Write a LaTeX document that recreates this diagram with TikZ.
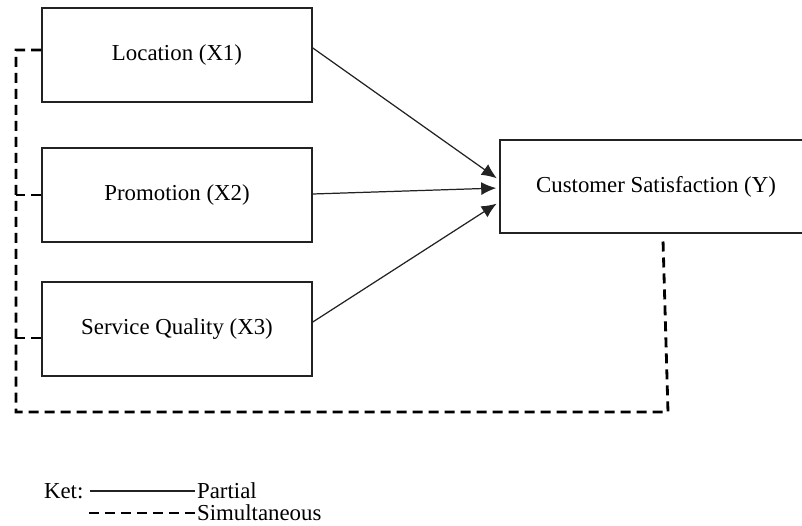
\documentclass[tikz,border=0pt]{standalone}
\usepackage{fontspec}
\setmainfont{Liberation Serif}
\usepackage{tikz}
\usetikzlibrary{arrows.meta,calc,positioning}
\definecolor{LineGray}{HTML}{222222}
\tikzset{
  varbox/.style={draw=LineGray, line width=0.95pt, minimum width=5.4cm, minimum height=1.88cm, align=center, inner sep=4pt, font=\fontsize{13}{15}\selectfont},
  partarrow/.style={-{Latex[length=3mm,width=2.6mm]}, line width=0.7pt, draw=LineGray},
  simline/.style={line width=1.6pt, draw=black, dash pattern=on 2mm off 1.2mm},
  ketlabel/.style={anchor=west, inner sep=1pt, font=\fontsize{13}{15}\selectfont}
}
\begin{document}
\begin{tikzpicture}[x=0.02cm, y=-0.02cm]
  \useasboundingbox (0,0) rectangle (802,526);
  % independent variables and the dependent one
  \node[varbox] (loc) at (177,55) {Location (X1)};
  \node[varbox] (promo) at (177,195) {Promotion (X2)};
  \node[varbox] (sq) at (177,329) {Service Quality (X3)};
  \node[varbox, minimum width=6.24cm, minimum height=1.86cm] (sat) at (656,186.5) {Customer Satisfaction (Y)};
  % partial effects
  \draw[partarrow, shorten >=0.06cm] ([yshift=0.14cm]loc.east) -- ([yshift=0.13cm]sat.west);
  \draw[partarrow, shorten >=0.06cm] ([yshift=0.02cm]promo.east) -- ([yshift=-0.03cm]sat.west);
  \draw[partarrow, shorten >=0.06cm] ([yshift=0.14cm]sq.east) -- ([yshift=-0.31cm]sat.west);
  % simultaneous effect
  \coordinate (lt) at (16,50);
  \coordinate (lb) at (16,412);
  \coordinate (rb) at (668,412);
  \draw[simline] ([yshift=0.1cm]loc.west) -- (lt) -- (lb) -- (rb) -- ([xshift=0.14cm,yshift=-0.12cm]sat.south);
  \draw[simline] (promo.west) -- (promo.west -| lt);
  \draw[simline] ([yshift=-0.18cm]sq.west) -- ([yshift=-0.18cm]sq.west -| lt);
  % legend
  \node[ketlabel] (ket) at (42,491) {Ket:};
  \coordinate (solidA) at (90,491);
  \node[ketlabel] (partial) at (195,491) {Partial};
  \draw[line width=0.7pt, draw=LineGray] (solidA) -- (partial.west);
  \coordinate (dashA) at (89,513);
  \node[ketlabel] (simult) at (195,513) {Simultaneous};
  \draw[simline, line width=1.4pt] (dashA) -- (simult.west);
\end{tikzpicture}
\end{document}
